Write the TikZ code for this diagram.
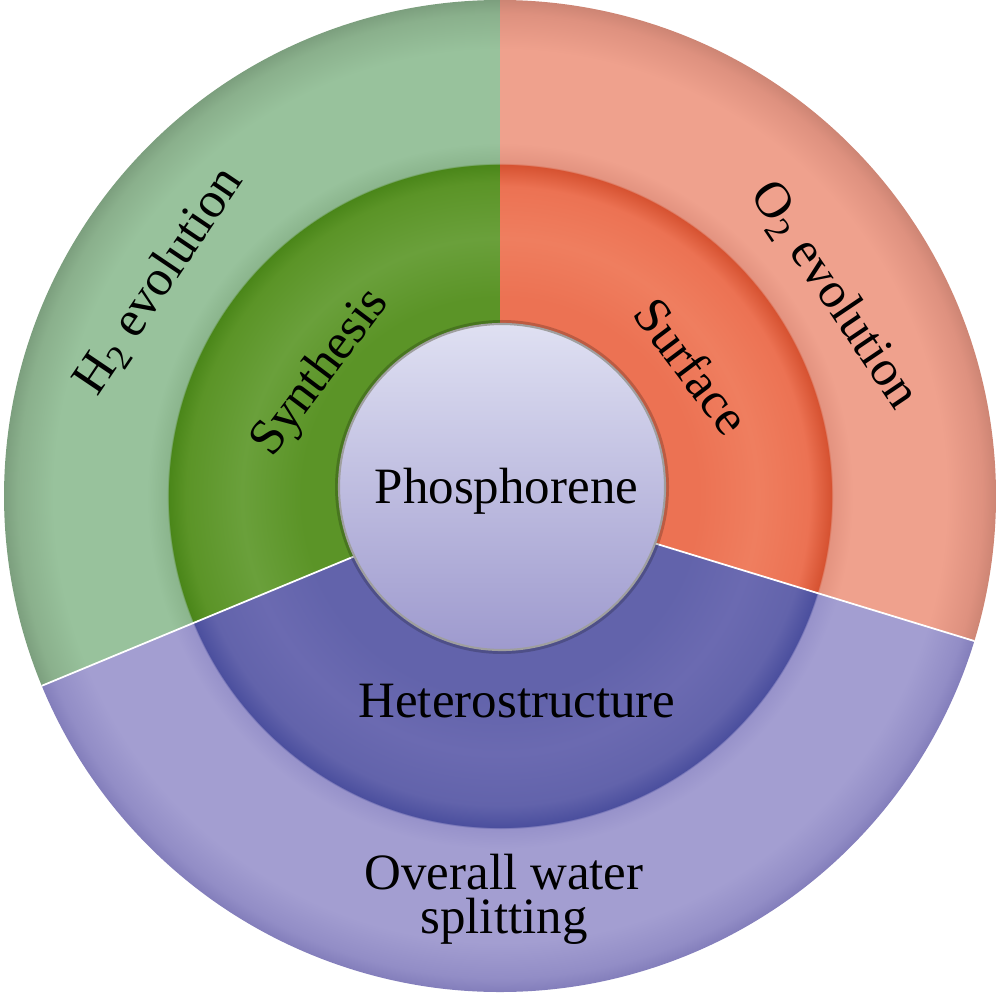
\documentclass[tikz,border=0pt]{standalone}
\usepackage{fontspec}
\setmainfont{Liberation Serif}
\definecolor{gA}{HTML}{4A8619}
\definecolor{gB}{HTML}{5B9427}
\definecolor{gC}{HTML}{6AA03B}
\definecolor{gD}{HTML}{8BB58D}
\definecolor{gE}{HTML}{98C29C}
\definecolor{gF}{HTML}{8AB08C}
\definecolor{gG}{HTML}{7C9F7E}
\definecolor{oA}{HTML}{D65231}
\definecolor{oB}{HTML}{EC7253}
\definecolor{oC}{HTML}{EF7E5F}
\definecolor{oD}{HTML}{E39380}
\definecolor{oE}{HTML}{EFA18D}
\definecolor{oF}{HTML}{DE917F}
\definecolor{oG}{HTML}{CD8574}
\definecolor{bA}{HTML}{4B4F9E}
\definecolor{bB}{HTML}{6263AB}
\definecolor{bC}{HTML}{6B6AB1}
\definecolor{bD}{HTML}{9792CA}
\definecolor{bE}{HTML}{A39ED1}
\definecolor{bF}{HTML}{928DC6}
\definecolor{bG}{HTML}{837EBB}
\definecolor{phtop}{HTML}{DFE0F2}
\definecolor{phmid}{HTML}{D3D4EC}
\definecolor{phbot}{HTML}{9E9ACE}
\pgfdeclareradialshading{greenring}{\pgfpointorigin}{color(0bp)=(gB); color(8.2bp)=(gB); color(10bp)=(gB); color(13bp)=(gC); color(15.8bp)=(gB); color(16.7bp)=(gA); color(16.76bp)=(gD); color(17.8bp)=(gE); color(22.5bp)=(gE); color(24.3bp)=(gF); color(25bp)=(gG); color(50bp)=(gG)}
\pgfdeclareradialshading{orangering}{\pgfpointorigin}{color(0bp)=(oB); color(8.2bp)=(oB); color(10bp)=(oB); color(13bp)=(oC); color(15.6bp)=(oB); color(16.7bp)=(oA); color(16.76bp)=(oD); color(17.8bp)=(oE); color(22.5bp)=(oE); color(24.3bp)=(oF); color(25bp)=(oG); color(50bp)=(oG)}
\pgfdeclareradialshading{bluering}{\pgfpointorigin}{color(0bp)=(bB); color(8.2bp)=(bB); color(10bp)=(bB); color(13bp)=(bC); color(15.6bp)=(bB); color(16.7bp)=(bA); color(16.76bp)=(bD); color(17.8bp)=(bE); color(22.5bp)=(bE); color(24.3bp)=(bF); color(25bp)=(bG); color(50bp)=(bG)}
\tikzstyle{ringtext} = [font=\fontsize{14.5}{12.5}\selectfont, align=center, inner sep=0pt]
\tikzstyle{divider} = [white, line width=0.5pt]

\begin{document}
\begin{tikzpicture}
\useasboundingbox (0,0) rectangle (10,9.93);
\begin{scope}[shift={(5,4.97)}]
\coordinate (c) at (0,0);
\coordinate (gb) at (202.5:4.96);
\coordinate (ob) at (-17:4.96);
\coordinate (pc) at (0.02,0.09);
\begin{scope}
\clip (c) -- (90:4.96) arc[start angle=90, end angle=202.5, radius=4.96] -- cycle;
\shade[shading=greenring] (c) circle (4.96);
\end{scope}
\begin{scope}
\clip (c) -- (-17:4.96) arc[start angle=-17, end angle=90, radius=4.96] -- cycle;
\shade[shading=orangering] (c) circle (4.96);
\end{scope}
\begin{scope}
\clip (c) -- (202.5:4.96) arc[start angle=202.5, end angle=343, radius=4.96] -- cycle;
\shade[shading=bluering] (c) circle (4.96);
\end{scope}
\draw [divider] (c) -- (gb);
\draw [divider] (c) -- (ob);
\fill [black, opacity=0.2] (pc) circle (1.67);
\shade [top color=phtop, middle color=phmid, bottom color=phbot] (pc) circle (1.63);
\draw [gray!75, line width=0.6pt] (pc) circle (1.63);
\node (h2) [ringtext, rotate=56] at (147.8:4.03) {H\textsubscript{2} evolution};
\node (synth) [ringtext, rotate=53] at (145.5:2.17) {Synthesis};
\node (o2) [ringtext, rotate=-56] at (31:3.90) {O\textsubscript{2} evolution};
\node (surf) [ringtext, rotate=-53] at (34.1:2.32) {Surface};
\node (phos) [ringtext, anchor=base] at (0.065,-0.07) {Phosphorene};
\node (hetero) [ringtext, anchor=base] at (0.17,-2.21) {Heterostructure};
\node (water) [ringtext] at (0.04,-4.03) {Overall water\\splitting};
\end{scope}
\end{tikzpicture}
\end{document}
